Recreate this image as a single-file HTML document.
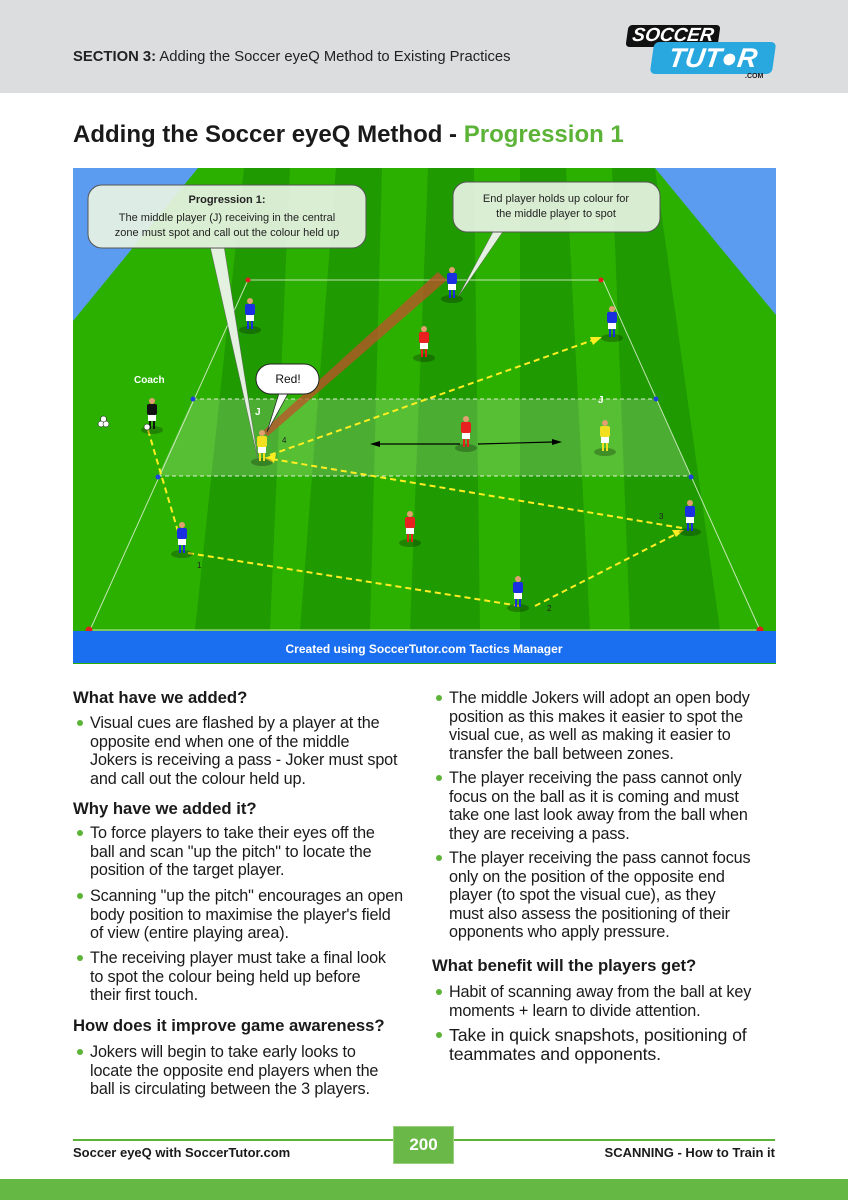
<!DOCTYPE html>
<html><head><meta charset="utf-8"><style>
*{margin:0;padding:0;box-sizing:border-box}
body{width:848px;height:1200px;position:relative;background:#fff;font-family:"Liberation Sans",sans-serif;color:#1a1a1a;overflow:hidden}
.a{position:absolute;white-space:nowrap}
.h{font-weight:bold;font-size:16.7px}
.p{font-size:16.2px;line-height:18.6px;letter-spacing:-0.15px}
.p::before{content:"";position:absolute;left:-13px;top:6px;width:6px;height:6px;border-radius:50%;background:#5cb338}
</style></head><body>
<div class="a" style="left:0;top:0;width:848px;height:93px;background:#dcdddf"></div>
<div class="a" style="left:73px;top:49px;font-size:14.8px;color:#222"><b>SECTION 3:</b> Adding the Soccer eyeQ Method to Existing Practices</div>
<div class="a" style="left:627px;top:25px;width:92px;height:22px;background:#111;border-radius:4px;transform:skewX(-8deg);color:#fff;font-weight:bold;font-style:italic;font-size:19px;line-height:22px;text-align:center">SOCCER</div>
<div class="a" style="left:652px;top:42px;width:122px;height:32px;background:#29a8e0;border-radius:5px;transform:skewX(-8deg);color:#fff;font-weight:bold;font-style:italic;font-size:27px;line-height:32px;text-align:center">TUT●R</div>
<div class="a" style="left:745px;top:73px;font-size:7px;font-weight:bold">.COM</div>
<div class="a" style="left:73px;top:121px;font-size:24px;font-weight:bold;color:#1a1a1a">Adding the Soccer eyeQ Method - <span style="color:#5cb338">Progression 1</span></div>

<svg class="a" style="left:73px;top:168px" width="703" height="496" viewBox="73 168 703 496">
<rect x="73" y="168" width="703" height="496" fill="#2cb000"/>
<polygon points="73,168 198,168 73,321" fill="#5b9bf0"/>
<polygon points="776,168 655,168 776,315" fill="#5b9bf0"/>
<g fill="#1f9a00">
<polygon points="244,168 290,168 270,630 195,630"/>
<polygon points="336,168 382,168 370,630 300,630"/>
<polygon points="428,168 474,168 480,630 410,630"/>
<polygon points="520,168 566,168 590,630 520,630"/>
<polygon points="612,168 655,168 720,630 630,630"/>
</g>
<polygon points="193,399 656,399 691,476 158,476" fill="#ffffff" fill-opacity="0.2"/>
<g stroke="#e8f5e0" stroke-width="1" fill="none" opacity="0.8">
<polyline points="248,280 603,280 760,630 90,630 248,280"/>
</g>
<g stroke="#e0f0d8" stroke-width="1" stroke-dasharray="4,3"><line x1="193" y1="399" x2="656" y2="399"/><line x1="158" y1="476" x2="691" y2="476"/></g>
<g fill="#e02020"><circle cx="248" cy="280" r="2.5"/><circle cx="601" cy="280" r="2.5"/><circle cx="89" cy="630" r="3.5"/><circle cx="760" cy="630" r="3.5"/></g>
<g fill="#2040e0"><circle cx="193" cy="399" r="2.5"/><circle cx="656" cy="399" r="2.5"/><circle cx="158" cy="477" r="2.5"/><circle cx="691" cy="477" r="2.5"/></g>
<rect x="73" y="631" width="703" height="32" fill="#1a6ef0"/>
<text x="424" y="653" text-anchor="middle" fill="#fff" font-size="12" font-weight="bold" font-family="Liberation Sans">Created using SoccerTutor.com Tactics Manager</text>
<polygon points="262,432 268,436 447,280 438,272" fill="#c0502a" opacity="0.75"/>
<g stroke="#ffee22" stroke-width="2" stroke-dasharray="6,4" fill="none">
<line x1="148" y1="430" x2="182" y2="545"/>
<line x1="188" y1="553" x2="520" y2="606"/>
<line x1="535" y1="606" x2="680" y2="532"/>
<line x1="682" y1="528" x2="272" y2="459"/>
<line x1="270" y1="455" x2="596" y2="339"/>
</g>
<g fill="#ffee22"><polygon points="684,530 672,530 676,537"/><polygon points="264,458 276,454 274,463"/><polygon points="602,337 590,337 593,345"/></g>
<g stroke="#000" stroke-width="1.2"><line x1="380" y1="444" x2="460" y2="444"/><line x1="478" y1="444" x2="553" y2="442"/></g>
<polygon points="370,444 380,441 380,447" fill="#000"/><polygon points="562,442 552,439 552,445" fill="#000"/>
<g font-family="Liberation Sans" font-size="8" fill="#222"><text x="282" y="443">4</text><text x="197" y="568">1</text><text x="547" y="611">2</text><text x="659" y="519">3</text></g>
<g font-family="Liberation Sans" font-size="10" font-weight="bold" fill="#fff"><text x="134" y="383">Coach</text><text x="255" y="415">J</text><text x="598" y="403">J</text></g>
<defs><g id="pl"><ellipse cx="0" cy="2" rx="11" ry="4" fill="#000" opacity="0.25"/><rect x="-3" y="-8" width="2" height="9" fill="var(--l)"/><rect x="1" y="-8" width="2" height="9" fill="var(--l)"/><rect x="-4" y="-14" width="8" height="7" fill="#fff"/><rect x="-5" y="-24" width="10" height="11" rx="2" fill="var(--c)"/><circle cx="0" cy="-27" r="3" fill="#e0a070"/></g></defs>
<g style="--c:#1a30e0;--l:#1a30e0">
<use href="#pl" x="250" y="328"/><use href="#pl" x="452" y="297"/><use href="#pl" x="612" y="336"/><use href="#pl" x="182" y="552"/><use href="#pl" x="690" y="530"/><use href="#pl" x="518" y="606"/></g>
<g style="--c:#e82020;--l:#e82020"><use href="#pl" x="424" y="356"/><use href="#pl" x="466" y="446"/><use href="#pl" x="410" y="541"/></g>
<g style="--c:#f0e020;--l:#f0e020"><use href="#pl" x="262" y="460"/><use href="#pl" x="605" y="450"/></g>
<g style="--c:#111;--l:#111"><use href="#pl" x="152" y="428"/></g>
<g fill="#fff" stroke="#000" stroke-width="0.5"><circle cx="147" cy="427" r="3"/><circle cx="101" cy="424" r="3"/><circle cx="106" cy="424" r="3"/><circle cx="103.5" cy="419" r="3"/></g>
<polygon points="210,246 224,246 258,460" fill="#e4f0e0" stroke="#666" stroke-width="0.5"/>
<polygon points="494,230 504,230 458,297" fill="#e4f0e0" stroke="#666" stroke-width="0.5"/>
<rect x="88" y="185" width="278" height="63" rx="14" fill="#e8f3e4" fill-opacity="0.92" stroke="#555"/>
<text font-family="Liberation Sans" font-size="11" fill="#222" text-anchor="middle"><tspan x="227" y="203" font-weight="bold">Progression 1:</tspan><tspan x="227" y="221">The middle player (J) receiving in the central</tspan><tspan x="227" y="236">zone must spot and call out the colour held up</tspan></text>
<rect x="453" y="182" width="207" height="50" rx="14" fill="#e8f3e4" fill-opacity="0.92" stroke="#555"/>
<text font-family="Liberation Sans" font-size="11" fill="#222" text-anchor="middle"><tspan x="556" y="202">End player holds up colour for</tspan><tspan x="556" y="217">the middle player to spot</tspan></text>
<polygon points="280,390 290,390 267,432" fill="#fff" stroke="#222" stroke-width="0.7"/>
<rect x="256" y="364" width="63" height="30" rx="15" fill="#fff" stroke="#222"/>
<text x="288" y="383" font-family="Liberation Sans" font-size="12" fill="#111" text-anchor="middle">Red!</text>
</svg>

<div class="a h" style="left:73px;top:688px">What have we added?</div>
<div class="a p" style="left:90px;top:714px">Visual cues are flashed by a player at the<br>opposite end when one of the middle<br>Jokers is receiving a pass - Joker must spot<br>and call out the colour held up.</div>
<div class="a h" style="left:73px;top:799px">Why have we added it?</div>
<div class="a p" style="left:90px;top:824px">To force players to take their eyes off the<br>ball and scan "up the pitch" to locate the<br>position of the target player.</div>
<div class="a p" style="left:90px;top:887px">Scanning "up the pitch" encourages an open<br>body position to maximise the player's field<br>of view (entire playing area).</div>
<div class="a p" style="left:90px;top:949px">The receiving player must take a final look<br>to spot the colour being held up before<br>their first touch.</div>
<div class="a h" style="left:73px;top:1016px">How does it improve game awareness?</div>
<div class="a p" style="left:90px;top:1043px">Jokers will begin to take early looks to<br>locate the opposite end players when the<br>ball is circulating between the 3 players.</div>

<div class="a p" style="left:449px;top:689px">The middle Jokers will adopt an open body<br>position as this makes it easier to spot the<br>visual cue, as well as making it easier to<br>transfer the ball between zones.</div>
<div class="a p" style="left:449px;top:769px">The player receiving the pass cannot only<br>focus on the ball as it is coming and must<br>take one last look away from the ball when<br>they are receiving a pass.</div>
<div class="a p" style="left:449px;top:849px">The player receiving the pass cannot focus<br>only on the position of the opposite end<br>player (to spot the visual cue), as they<br>must also assess the positioning of their<br>opponents who apply pressure.</div>
<div class="a h" style="left:432px;top:956px">What benefit will the players get?</div>
<div class="a p" style="left:449px;top:983px">Habit of scanning away from the ball at key<br>moments + learn to divide attention.</div>
<div class="a p" style="left:449px;top:1026px;font-size:17.8px;line-height:19px">Take in quick snapshots, positioning of<br>teammates and opponents.</div>

<div class="a" style="left:73px;top:1139px;width:702px;height:2px;background:#5cb338"></div>
<div class="a" style="left:393px;top:1126px;width:61px;height:38px;background:#6ab847;border:1px solid #9ad080;color:#fff;font-weight:bold;font-size:17px;line-height:36px;text-align:center">200</div>
<div class="a" style="left:73px;top:1145px;font-size:13px;font-weight:bold">Soccer eyeQ with SoccerTutor.com</div>
<div class="a" style="right:73px;top:1145px;font-size:13px;font-weight:bold">SCANNING - How to Train it</div>
<div class="a" style="left:0;top:1179px;width:848px;height:21px;background:#66b845"></div>
</body></html>
